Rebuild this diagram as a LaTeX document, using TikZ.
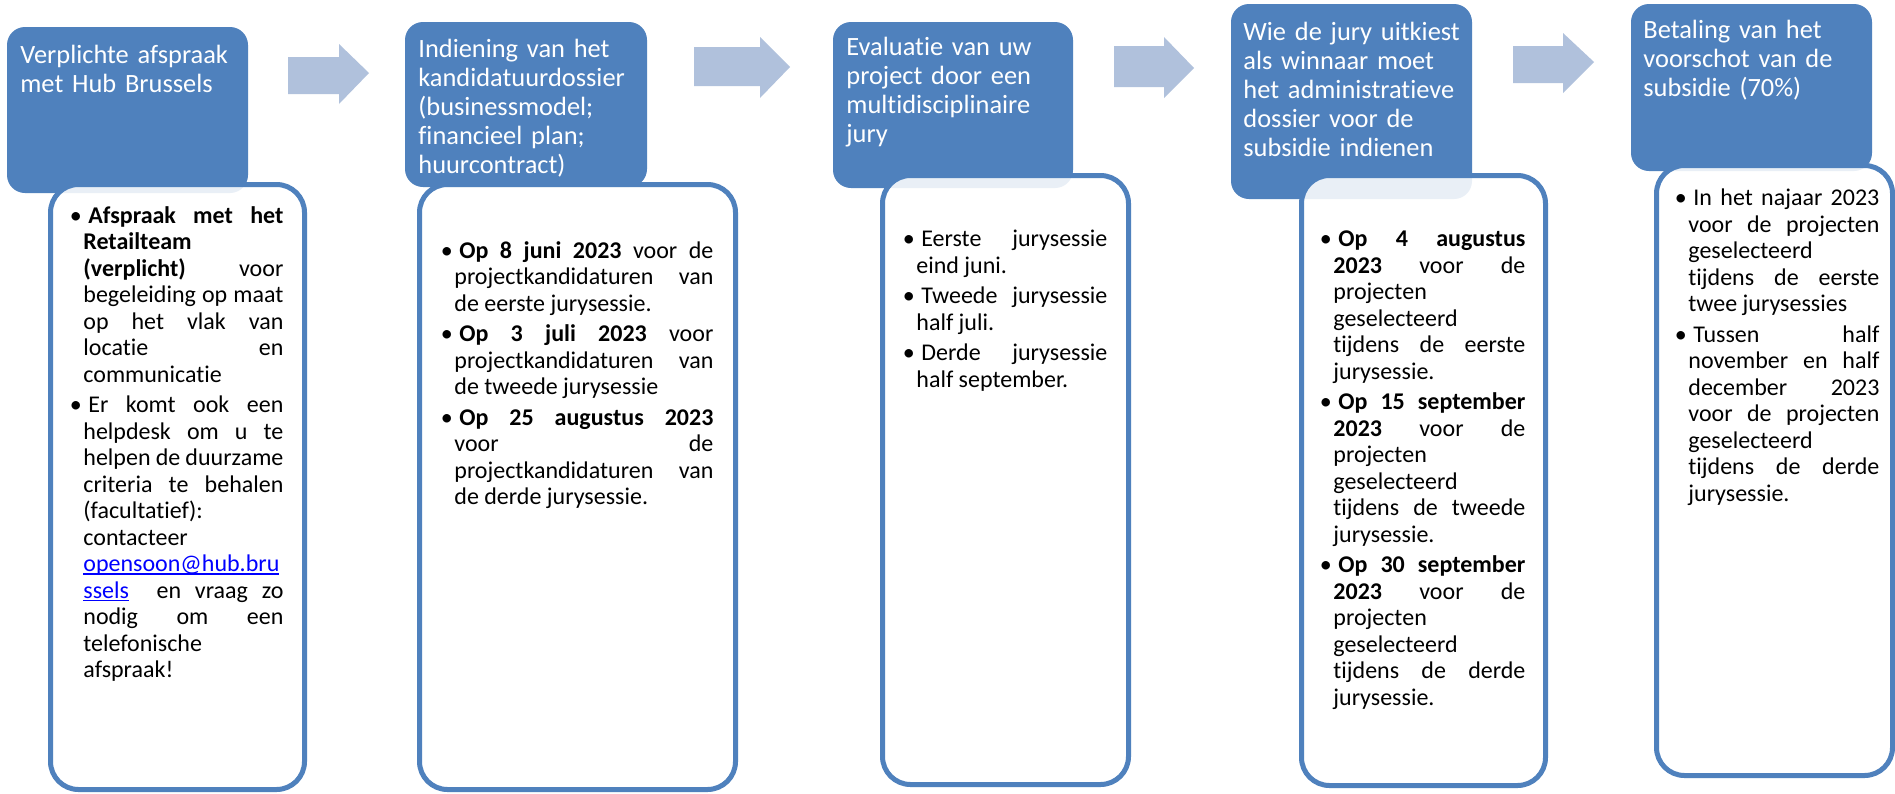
\documentclass[tikz,border=0pt]{standalone}
\usepackage{fontspec}
\setmainfont{Carlito}[Ligatures=NoCommon]
\definecolor{hubblue}{HTML}{4F81BD}
\definecolor{arrowblue}{HTML}{B0C1DC}
\definecolor{linkblue}{HTML}{0000FF}
\newcommand{\blt}{\noindent\hspace*{-3.75pt}\makebox[0pt][c]{\textbullet}\hspace*{6.25pt}}
\newcommand{\maillink}[1]{\setbox0\hbox{#1}\rlap{\rule[-1.6pt]{\wd0}{0.7pt}}\box0}
\newcommand{\bodyfont}{\fontsize{12}{13.25}\selectfont\setlength{\parskip}{2pt}}
\newcommand{\headfont}{\fontsize{13.2}{14.6}\selectfont}
\tolerance=10000
\hbadness=10000
\hyphenpenalty=10000
\exhyphenpenalty=10000
\begin{document}
\begin{tikzpicture}[x=0.5pt,y=-0.5pt,
  bluebox/.style={fill=hubblue, draw=none, rounded corners=9pt, inner sep=0pt, outer sep=0pt},
  whitebox/.style={draw=hubblue, line width=2.5pt, fill=white, fill opacity=0.88, rounded corners=14pt, inner sep=0pt, outer sep=0pt},
  headtext/.style={text=white, align=left, anchor=base west, inner sep=0pt, text width=112pt, font=\headfont},
  bodytext/.style={text=black, align=justify, anchor=base west, inner sep=0pt, font=\bodyfont},
  blockarrow/.style={fill=arrowblue, draw=none}]
\useasboundingbox (0,0) rectangle (1895,793);
\fill[white] (0,0) rectangle (1895,793);

% block arrows
\fill[blockarrow] (288,57) -- (339,57) -- (339,44) -- (369,73) -- (339,104) -- (339,94) -- (288,94) -- cycle;
\fill[blockarrow] (694,47) -- (760,47) -- (760,37) -- (790,67) -- (760,98) -- (760,86) -- (694,86) -- cycle;
\fill[blockarrow] (1114,46) -- (1164,46) -- (1164,37) -- (1194,68) -- (1164,98) -- (1164,87) -- (1114,87) -- cycle;
\fill[blockarrow] (1513,46) -- (1563,46) -- (1563,33) -- (1594,62) -- (1563,93) -- (1563,83) -- (1513,83) -- cycle;

% step 1
\node[bluebox, minimum width=120.5pt, minimum height=83pt] (b1) at (127.5,110) {};
\node[whitebox, minimum width=127pt, minimum height=302.5pt] (w1) at (177.5,487) {};
\node[headtext] (h1) at (20,63) {\headfont Verplichte afspraak\\met Hub Brussels};
\node[bodytext, text width=100pt] (t1) at (83,223) {\bodyfont
\blt\textbf{Afspraak met het}\linebreak \textbf{Retailteam}\linebreak \textbf{(verplicht)} voor\linebreak begeleiding op maat\linebreak op het vlak van\linebreak locatie en\linebreak communicatie\par
\blt Er komt ook een\linebreak helpdesk om u te\linebreak helpen de duurzame\linebreak criteria te behalen\linebreak (facultatief):\linebreak contacteer\linebreak {\color{linkblue}\maillink{opensoon@hub.bru}}\linebreak {\color{linkblue}\maillink{ssels}} \ en vraag zo\linebreak nodig om een\linebreak telefonische\linebreak afspraak!};

% step 2
\node[bluebox, minimum width=121pt, minimum height=82.5pt] (b2) at (526,104.5) {};
\node[whitebox, minimum width=158pt, minimum height=302.5pt] (w2) at (577.5,487) {};
\node[headtext] (h2) at (418,57) {\headfont Indiening van het\\kandidatuurdossier\\(businessmodel;\\financieel plan;\\huurcontract)};
\node[bodytext, text width=129.5pt] (t2) at (454,258) {\bodyfont
\blt\textbf{Op 8 juni 2023} voor de\linebreak projectkandidaturen van\linebreak de eerste jurysessie.\par
\blt\textbf{Op 3 juli 2023} voor\linebreak projectkandidaturen van\linebreak de tweede jurysessie\par
\blt\textbf{Op 25 augustus 2023}\linebreak voor de\linebreak projectkandidaturen van\linebreak de derde jurysessie.};

% step 3
\node[bluebox, minimum width=120pt, minimum height=83pt] (b3) at (953,105) {};
\node[whitebox, minimum width=123pt, minimum height=304.5pt] (w3) at (1005.5,480) {};
\node[headtext] (h3) at (846,55) {\headfont Evaluatie van uw\\project door een\\multidisciplinaire\\jury};
\node[bodytext, text width=95.5pt] (t3) at (916,246.5) {\bodyfont
\blt Eerste jurysessie\linebreak eind juni.\par
\blt Tweede jurysessie\linebreak half juli.\par
\blt Derde jurysessie\linebreak half september.};

% step 4
\node[bluebox, minimum width=120.5pt, minimum height=97.5pt] (b4) at (1351.5,101.5) {};
\node[whitebox, minimum width=122pt, minimum height=305pt] (w4) at (1423.5,480.5) {};
\node[headtext] (h4) at (1243,40) {\headfont Wie de jury uitkiest\\als winnaar moet\\het administratieve\\dossier voor de\\subsidie indienen};
\node[bodytext, text width=96pt] (t4) at (1333,246.5) {\bodyfont
\blt\textbf{Op 4 augustus}\linebreak \textbf{2023} voor de\linebreak projecten\linebreak geselecteerd\linebreak tijdens de eerste\linebreak jurysessie.\par
\blt\textbf{Op 15 september}\linebreak \textbf{2023} voor de\linebreak projecten\linebreak geselecteerd\linebreak tijdens de tweede\linebreak jurysessie.\par
\blt\textbf{Op 30 september}\linebreak \textbf{2023} voor de\linebreak projecten\linebreak geselecteerd\linebreak tijdens de derde\linebreak jurysessie.};

% step 5
\node[bluebox, minimum width=120.5pt, minimum height=83.5pt] (b5) at (1751.5,87.5) {};
\node[whitebox, minimum width=118pt, minimum height=305pt] (w5) at (1774.5,470.5) {};
\node[headtext] (h5) at (1643,38) {\headfont Betaling van het\\voorschot van de\\subsidie (70\%)};
\node[bodytext, text width=95.5pt] (t5) at (1688,205.5) {\bodyfont
\blt In het najaar 2023\linebreak voor de projecten\linebreak geselecteerd\linebreak tijdens de eerste\linebreak twee jurysessies\par
\blt Tussen half\linebreak november en half\linebreak december 2023\linebreak voor de projecten\linebreak geselecteerd\linebreak tijdens de derde\linebreak jurysessie.};
\end{tikzpicture}
\end{document}
